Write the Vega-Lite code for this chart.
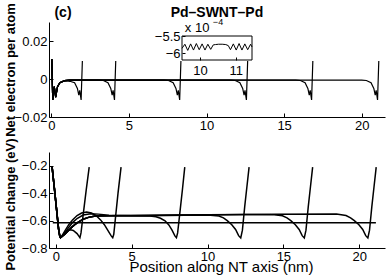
{
"$schema": "https://vega.github.io/schema/vega-lite/v6.json",
"width": 336, "height": 226,
"autosize": {"type": "none"},
"padding": {"left": 49, "top": 22, "right": 3, "bottom": 29},
"background": "white",
"config": {
  "view": {"stroke": null},
  "font": "Liberation Sans",
  "axis": {"grid": false, "domainColor": "#000", "domainWidth": 1, "tickColor": "#000", "tickSize": -4, "tickWidth": 1, "labelPadding": 6, "labelFont": "Liberation Sans", "labelFontSize": 13, "labelColor": "#000", "labelFlush": false, "labelOverlap": false, "titleFont": "Liberation Sans", "titleColor": "#000", "titleFontSize": 13, "titleFontWeight": "bold"}
},
"datasets": {
  "ne": [
    {"len":"a","x":0.03,"v":0.0105},{"len":"a","x":0.09,"v":-0.011},{"len":"a","x":0.19,"v":-0.004},{"len":"a","x":0.28,"v":-0.0095},{"len":"a","x":0.4,"v":-0.004},{"len":"a","x":0.55,"v":-0.002},{"len":"a","x":0.8,"v":-0.0011},{"len":"a","x":1.0,"v":-0.001},{"len":"a","x":1.2,"v":-0.0012},{"len":"a","x":1.5,"v":-0.002},{"len":"a","x":1.68,"v":-0.005},{"len":"a","x":1.77,"v":-0.0085},{"len":"a","x":1.83,"v":-0.006},{"len":"a","x":1.92,"v":-0.011},{"len":"a","x":2.0,"v":0.0095},
    {"len":"b","x":0.03,"v":0.0105},{"len":"b","x":0.09,"v":-0.011},{"len":"b","x":0.19,"v":-0.004},{"len":"b","x":0.28,"v":-0.0095},{"len":"b","x":0.4,"v":-0.004},{"len":"b","x":0.55,"v":-0.002},{"len":"b","x":0.85,"v":-0.0009},{"len":"b","x":1.2,"v":-0.0006},{"len":"b","x":2.1,"v":-0.0006},{"len":"b","x":3.05,"v":-0.0006},{"len":"b","x":3.35,"v":-0.0008},{"len":"b","x":3.65,"v":-0.002},{"len":"b","x":3.83,"v":-0.005},{"len":"b","x":3.92,"v":-0.0085},{"len":"b","x":3.98,"v":-0.006},{"len":"b","x":4.07,"v":-0.011},{"len":"b","x":4.15,"v":0.0095},
    {"len":"c","x":0.03,"v":0.0105},{"len":"c","x":0.09,"v":-0.011},{"len":"c","x":0.19,"v":-0.004},{"len":"c","x":0.28,"v":-0.0095},{"len":"c","x":0.4,"v":-0.004},{"len":"c","x":0.55,"v":-0.002},{"len":"c","x":0.85,"v":-0.0009},{"len":"c","x":1.2,"v":-0.0006},{"len":"c","x":4.2,"v":-0.0006},{"len":"c","x":7.25,"v":-0.0006},{"len":"c","x":7.55,"v":-0.0008},{"len":"c","x":7.85,"v":-0.002},{"len":"c","x":8.03,"v":-0.005},{"len":"c","x":8.12,"v":-0.0085},{"len":"c","x":8.18,"v":-0.006},{"len":"c","x":8.27,"v":-0.011},{"len":"c","x":8.35,"v":0.0095},
    {"len":"d","x":0.03,"v":0.0105},{"len":"d","x":0.09,"v":-0.011},{"len":"d","x":0.19,"v":-0.004},{"len":"d","x":0.28,"v":-0.0095},{"len":"d","x":0.4,"v":-0.004},{"len":"d","x":0.55,"v":-0.002},{"len":"d","x":0.85,"v":-0.0009},{"len":"d","x":1.2,"v":-0.0006},{"len":"d","x":6.3,"v":-0.0006},{"len":"d","x":11.55,"v":-0.0006},{"len":"d","x":11.85,"v":-0.0008},{"len":"d","x":12.15,"v":-0.002},{"len":"d","x":12.33,"v":-0.005},{"len":"d","x":12.42,"v":-0.0085},{"len":"d","x":12.48,"v":-0.006},{"len":"d","x":12.57,"v":-0.011},{"len":"d","x":12.65,"v":0.0095},
    {"len":"e","x":0.03,"v":0.0105},{"len":"e","x":0.09,"v":-0.011},{"len":"e","x":0.19,"v":-0.004},{"len":"e","x":0.28,"v":-0.0095},{"len":"e","x":0.4,"v":-0.004},{"len":"e","x":0.55,"v":-0.002},{"len":"e","x":0.85,"v":-0.0009},{"len":"e","x":1.2,"v":-0.0006},{"len":"e","x":8.4,"v":-0.0006},{"len":"e","x":15.75,"v":-0.0006},{"len":"e","x":16.05,"v":-0.0008},{"len":"e","x":16.35,"v":-0.002},{"len":"e","x":16.53,"v":-0.005},{"len":"e","x":16.62,"v":-0.0085},{"len":"e","x":16.68,"v":-0.006},{"len":"e","x":16.77,"v":-0.011},{"len":"e","x":16.85,"v":0.0095},
    {"len":"f","x":0.03,"v":0.0105},{"len":"f","x":0.09,"v":-0.011},{"len":"f","x":0.19,"v":-0.004},{"len":"f","x":0.28,"v":-0.0095},{"len":"f","x":0.4,"v":-0.004},{"len":"f","x":0.55,"v":-0.002},{"len":"f","x":0.85,"v":-0.0009},{"len":"f","x":1.2,"v":-0.0006},{"len":"f","x":10.5,"v":-0.0006},{"len":"f","x":20.0,"v":-0.0006},{"len":"f","x":20.3,"v":-0.0008},{"len":"f","x":20.6,"v":-0.002},{"len":"f","x":20.78,"v":-0.005},{"len":"f","x":20.87,"v":-0.0085},{"len":"f","x":20.93,"v":-0.006},{"len":"f","x":21.02,"v":-0.011},{"len":"f","x":21.1,"v":0.0095}
  ],
  "inset": [
    {"x":9.5,"v":-0.000586},{"x":9.58,"v":-0.000574},{"x":9.66,"v":-0.000592},{"x":9.74,"v":-0.000573},{"x":9.82,"v":-0.000591},{"x":9.9,"v":-0.000572},{"x":9.98,"v":-0.00059},{"x":10.06,"v":-0.000573},{"x":10.14,"v":-0.000591},{"x":10.22,"v":-0.000574},{"x":10.3,"v":-0.000589},{"x":10.37,"v":-0.000576},{"x":10.43,"v":-0.000575},{"x":10.52,"v":-0.000574},{"x":10.62,"v":-0.000574},{"x":10.72,"v":-0.000575},{"x":10.79,"v":-0.000578},{"x":10.85,"v":-0.00059},{"x":10.93,"v":-0.000573},{"x":11.01,"v":-0.000591},{"x":11.09,"v":-0.000572},{"x":11.17,"v":-0.000591},{"x":11.25,"v":-0.000573},{"x":11.33,"v":-0.00059},{"x":11.41,"v":-0.000574},{"x":11.45,"v":-0.000582}
  ],
  "pot": [
    {"len":"a","x":-0.25,"v":-0.205},{"len":"a","x":-0.1,"v":-0.36},{"len":"a","x":0.05,"v":-0.52},{"len":"a","x":0.18,"v":-0.66},{"len":"a","x":0.26,"v":-0.713},{"len":"a","x":0.31,"v":-0.725},{"len":"a","x":0.4,"v":-0.715},{"len":"a","x":0.55,"v":-0.695},{"len":"a","x":0.8,"v":-0.672},{"len":"a","x":0.97,"v":-0.667},{"len":"a","x":1.15,"v":-0.672},{"len":"a","x":1.4,"v":-0.695},{"len":"a","x":1.53,"v":-0.715},{"len":"a","x":1.59,"v":-0.725},{"len":"a","x":1.66,"v":-0.69},{"len":"a","x":1.8,"v":-0.56},{"len":"a","x":2.0,"v":-0.38},{"len":"a","x":2.2,"v":-0.21},
    {"len":"b","x":-0.25,"v":-0.205},{"len":"b","x":-0.1,"v":-0.36},{"len":"b","x":0.05,"v":-0.52},{"len":"b","x":0.18,"v":-0.66},{"len":"b","x":0.26,"v":-0.713},{"len":"b","x":0.31,"v":-0.725},{"len":"b","x":0.4,"v":-0.712},{"len":"b","x":0.6,"v":-0.675},{"len":"b","x":0.85,"v":-0.63},{"len":"b","x":1.1,"v":-0.595},{"len":"b","x":1.4,"v":-0.563},{"len":"b","x":1.7,"v":-0.545},{"len":"b","x":2.03,"v":-0.537},{"len":"b","x":2.35,"v":-0.545},{"len":"b","x":2.65,"v":-0.563},{"len":"b","x":2.95,"v":-0.595},{"len":"b","x":3.2,"v":-0.63},{"len":"b","x":3.45,"v":-0.675},{"len":"b","x":3.65,"v":-0.712},{"len":"b","x":3.75,"v":-0.725},{"len":"b","x":3.82,"v":-0.7},{"len":"b","x":3.95,"v":-0.56},{"len":"b","x":4.1,"v":-0.4},{"len":"b","x":4.3,"v":-0.21},
    {"len":"c","x":-0.25,"v":-0.205},{"len":"c","x":-0.1,"v":-0.36},{"len":"c","x":0.05,"v":-0.52},{"len":"c","x":0.18,"v":-0.66},{"len":"c","x":0.26,"v":-0.713},{"len":"c","x":0.31,"v":-0.725},{"len":"c","x":0.4,"v":-0.715},{"len":"c","x":0.6,"v":-0.69},{"len":"c","x":0.85,"v":-0.65},{"len":"c","x":1.1,"v":-0.615},{"len":"c","x":1.4,"v":-0.585},{"len":"c","x":1.8,"v":-0.56},{"len":"c","x":2.3,"v":-0.55},{"len":"c","x":2.8,"v":-0.553},{"len":"c","x":3.5,"v":-0.562},{"len":"c","x":5.0,"v":-0.565},{"len":"c","x":6.2,"v":-0.566},{"len":"c","x":6.6,"v":-0.572},{"len":"c","x":6.9,"v":-0.583},{"len":"c","x":7.2,"v":-0.602},{"len":"c","x":7.45,"v":-0.632},{"len":"c","x":7.66,"v":-0.67},{"len":"c","x":7.85,"v":-0.712},{"len":"c","x":7.95,"v":-0.725},{"len":"c","x":8.03,"v":-0.69},{"len":"c","x":8.2,"v":-0.52},{"len":"c","x":8.35,"v":-0.37},{"len":"c","x":8.5,"v":-0.21},
    {"len":"d","x":-0.25,"v":-0.205},{"len":"d","x":-0.1,"v":-0.36},{"len":"d","x":0.05,"v":-0.52},{"len":"d","x":0.18,"v":-0.66},{"len":"d","x":0.26,"v":-0.713},{"len":"d","x":0.31,"v":-0.725},{"len":"d","x":0.4,"v":-0.718},{"len":"d","x":0.6,"v":-0.7},{"len":"d","x":0.85,"v":-0.67},{"len":"d","x":1.04,"v":-0.65},{"len":"d","x":1.25,"v":-0.63},{"len":"d","x":1.48,"v":-0.612},{"len":"d","x":1.8,"v":-0.59},{"len":"d","x":2.2,"v":-0.575},{"len":"d","x":2.6,"v":-0.567},{"len":"d","x":3.5,"v":-0.565},{"len":"d","x":6,"v":-0.564},{"len":"d","x":8.5,"v":-0.562},{"len":"d","x":10.2,"v":-0.562},{"len":"d","x":10.75,"v":-0.567},{"len":"d","x":11.05,"v":-0.58},{"len":"d","x":11.3,"v":-0.6},{"len":"d","x":11.6,"v":-0.63},{"len":"d","x":11.85,"v":-0.665},{"len":"d","x":12.05,"v":-0.71},{"len":"d","x":12.19,"v":-0.727},{"len":"d","x":12.3,"v":-0.67},{"len":"d","x":12.45,"v":-0.5},{"len":"d","x":12.6,"v":-0.35},{"len":"d","x":12.74,"v":-0.21},
    {"len":"e","x":-0.25,"v":-0.205},{"len":"e","x":-0.1,"v":-0.36},{"len":"e","x":0.05,"v":-0.52},{"len":"e","x":0.18,"v":-0.66},{"len":"e","x":0.26,"v":-0.713},{"len":"e","x":0.31,"v":-0.725},{"len":"e","x":0.4,"v":-0.718},{"len":"e","x":0.6,"v":-0.7},{"len":"e","x":0.85,"v":-0.67},{"len":"e","x":1.04,"v":-0.65},{"len":"e","x":1.25,"v":-0.63},{"len":"e","x":1.48,"v":-0.612},{"len":"e","x":1.8,"v":-0.59},{"len":"e","x":2.2,"v":-0.575},{"len":"e","x":2.6,"v":-0.567},{"len":"e","x":3.5,"v":-0.565},{"len":"e","x":7,"v":-0.562},{"len":"e","x":10,"v":-0.558},{"len":"e","x":12.5,"v":-0.556},{"len":"e","x":14.4,"v":-0.558},{"len":"e","x":14.94,"v":-0.565},{"len":"e","x":15.24,"v":-0.58},{"len":"e","x":15.49,"v":-0.6},{"len":"e","x":15.79,"v":-0.63},{"len":"e","x":16.04,"v":-0.665},{"len":"e","x":16.24,"v":-0.71},{"len":"e","x":16.38,"v":-0.727},{"len":"e","x":16.49,"v":-0.67},{"len":"e","x":16.64,"v":-0.5},{"len":"e","x":16.79,"v":-0.35},{"len":"e","x":16.93,"v":-0.21},
    {"len":"f","x":-0.25,"v":-0.205},{"len":"f","x":-0.1,"v":-0.36},{"len":"f","x":0.05,"v":-0.52},{"len":"f","x":0.18,"v":-0.66},{"len":"f","x":0.26,"v":-0.713},{"len":"f","x":0.31,"v":-0.725},{"len":"f","x":0.4,"v":-0.718},{"len":"f","x":0.6,"v":-0.7},{"len":"f","x":0.85,"v":-0.67},{"len":"f","x":1.04,"v":-0.65},{"len":"f","x":1.25,"v":-0.63},{"len":"f","x":1.48,"v":-0.612},{"len":"f","x":1.8,"v":-0.59},{"len":"f","x":2.2,"v":-0.575},{"len":"f","x":2.6,"v":-0.567},{"len":"f","x":3.5,"v":-0.565},{"len":"f","x":7,"v":-0.561},{"len":"f","x":11,"v":-0.557},{"len":"f","x":14.5,"v":-0.553},{"len":"f","x":18.5,"v":-0.552},{"len":"f","x":19.13,"v":-0.563},{"len":"f","x":19.43,"v":-0.58},{"len":"f","x":19.68,"v":-0.6},{"len":"f","x":19.98,"v":-0.63},{"len":"f","x":20.23,"v":-0.665},{"len":"f","x":20.43,"v":-0.71},{"len":"f","x":20.57,"v":-0.727},{"len":"f","x":20.68,"v":-0.67},{"len":"f","x":20.83,"v":-0.5},{"len":"f","x":20.98,"v":-0.35},{"len":"f","x":21.12,"v":-0.21}
  ],
  "hline": [{"x":-0.2,"v":-0.615},{"x":21.1,"v":-0.615}]
},
"layer": [
  {
    "layer": [
      {
        "data": {"name": "ne"},
        "mark": {"type": "line", "color": "black", "strokeWidth": 1.2},
        "encoding": {
          "x": {"field": "x", "type": "quantitative", "scale": {"domain": [-0.15, 21.5], "nice": false, "zero": false},
                "axis": {"values": [0,5,10,15,20], "title": null, "orient": "bottom", "offset": -131}},
          "y": {"field": "v", "type": "quantitative", "scale": {"domain": [-0.02, 0.03], "range": [95, 0], "nice": false, "zero": false},
                "axis": {"values": [-0.02, 0, 0.02], "format": ".2~f", "title": "Net electron per atom", "orient": "left", "titleX": -35, "titleBaseline": "alphabetic", "titleAngle": 270}},
          "detail": {"field": "len", "type": "nominal"}
        }
      },
      {
        "data": {"values": [{"t": "(c)"}]},
        "mark": {"type": "text", "align": "left", "baseline": "middle", "fontSize": 14, "fontWeight": "bold", "color": "black"},
        "encoding": {"x": {"datum": 0.2, "type": "quantitative"}, "y": {"datum": 0.035, "type": "quantitative"}, "text": {"field": "t"}}
      },
      {
        "data": {"values": [{"t": "Pd–SWNT–Pd"}]},
        "mark": {"type": "text", "align": "center", "baseline": "middle", "fontSize": 14, "fontWeight": "bold", "color": "black"},
        "encoding": {"x": {"datum": 10.67, "type": "quantitative"}, "y": {"datum": 0.035, "type": "quantitative"}, "text": {"field": "t"}}
      }
    ]
  },
  {
    "layer": [
      {
        "data": {"values": [{"a": 1}]},
        "mark": {"type": "rect", "fill": "white", "stroke": "black", "strokeWidth": 1},
        "encoding": {
          "x": {"datum": 9.5, "type": "quantitative", "scale": {"domain": [9.5, 11.45], "range": [133, 203], "nice": false, "zero": false},
                "axis": {"values": [10, 11], "format": "d", "title": null, "orient": "bottom", "offset": -188, "domain": false, "tickSize": -3, "labelPadding": 7, "zindex": 1}},
          "x2": {"datum": 11.45},
          "y": {"datum": -0.00062, "type": "quantitative", "scale": {"domain": [-0.00062, -0.00055], "range": [38, 14], "nice": false, "zero": false},
                "axis": {"values": [-0.0006, -0.00055], "labelExpr": "format(datum.value*10000, '~g')", "title": null, "orient": "left", "offset": -133, "domain": false, "tickSize": -3, "labelPadding": 5, "zindex": 1}},
          "y2": {"datum": -0.00055}
        }
      },
      {
        "data": {"name": "inset"},
        "mark": {"type": "line", "color": "black", "strokeWidth": 1},
        "encoding": {"x": {"field": "x", "type": "quantitative"}, "y": {"field": "v", "type": "quantitative"}}
      },
      {
        "data": {"values": [{"t": "x 10"}]},
        "mark": {"type": "text", "align": "left", "baseline": "middle", "fontSize": 13, "color": "black"},
        "encoding": {"x": {"datum": 9.58, "type": "quantitative"}, "y": {"datum": -0.000527, "type": "quantitative"}, "text": {"field": "t"}}
      },
      {
        "data": {"values": [{"t": "−4"}]},
        "mark": {"type": "text", "align": "left", "baseline": "middle", "fontSize": 9, "color": "black"},
        "encoding": {"x": {"datum": 10.36, "type": "quantitative"}, "y": {"datum": -0.000509, "type": "quantitative"}, "text": {"field": "t"}}
      }
    ]
  },
  {
    "layer": [
      {
        "data": {"name": "pot"},
        "mark": {"type": "line", "color": "black", "strokeWidth": 1.5},
        "encoding": {
          "x": {"field": "x", "type": "quantitative", "scale": {"domain": [-0.45, 21.7], "nice": false, "zero": false},
                "axis": {"values": [0,5,10,15,20], "title": "Position along NT axis (nm)", "orient": "bottom", "titleFontSize": 15, "titleFontWeight": "normal", "titleBaseline": "alphabetic", "titleY": 23, "titleX": 172}},
          "y": {"field": "v", "type": "quantitative", "scale": {"domain": [-0.8, -0.1], "range": [226, 130], "nice": false, "zero": false},
                "axis": {"values": [-0.8, -0.6, -0.4, -0.2], "format": ".1f", "title": "Potential change (eV)", "orient": "left", "titleX": -35, "titleY": 182, "titleBaseline": "alphabetic", "titleAngle": 270}},
          "detail": {"field": "len", "type": "nominal"}
        }
      },
      {
        "data": {"name": "hline"},
        "mark": {"type": "line", "color": "black", "strokeWidth": 1.5},
        "encoding": {"x": {"field": "x", "type": "quantitative"}, "y": {"field": "v", "type": "quantitative"}}
      }
    ]
  }
],
"resolve": {"scale": {"x": "independent", "y": "independent"}, "axis": {"x": "independent", "y": "independent"}}
}
